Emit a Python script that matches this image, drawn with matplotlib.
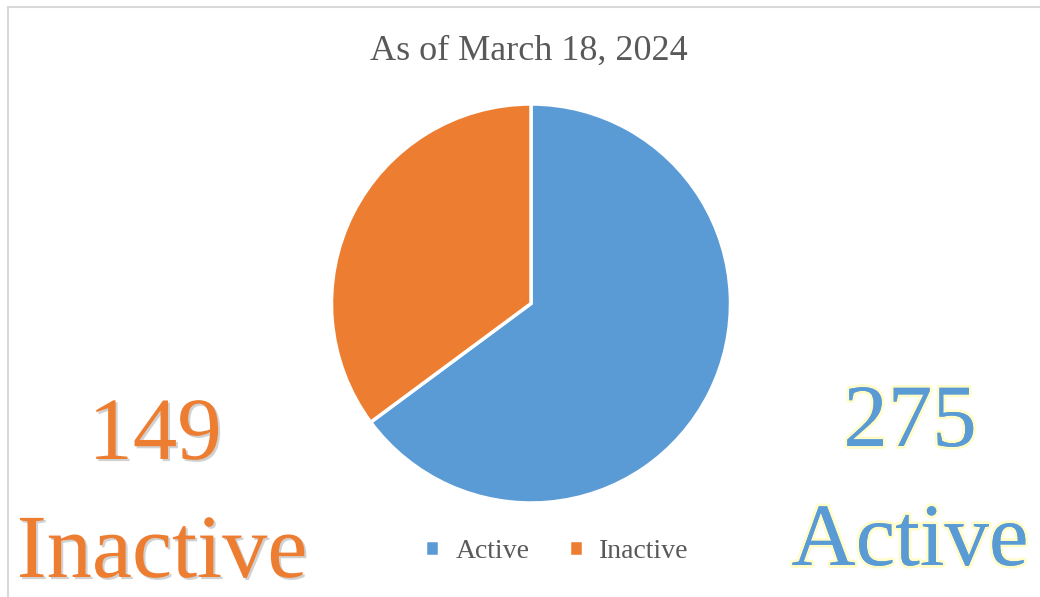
import matplotlib
matplotlib.use("Agg")
import matplotlib.pyplot as plt
import matplotlib.patheffects as pe
from matplotlib.patches import Rectangle

labels = ["Active", "Inactive"]
values = [275, 149]
colors = ["#5B9BD5", "#ED7D31"]
title = "As of March 18, 2024"

W, H = 1040, 597
fig = plt.figure(figsize=(W / 100, H / 100), dpi=100)
fig.patch.set_facecolor("white")
serif = ["Liberation Serif", "DejaVu Serif"]

# frame
fig.add_artist(Rectangle((8 / W, -0.05), 1.1, (H - 7) / H + 0.05, transform=fig.transFigure,
                         fill=False, edgecolor="#D9D9D9", linewidth=1.5))

cx, cy, r = 531, 303.5, 199.5
ax = fig.add_axes([(cx - r) / W, (H - cy - r) / H, 2 * r / W, 2 * r / H])
wedges, _ = ax.pie(values, colors=colors, startangle=90, counterclock=False,
                   wedgeprops=dict(edgecolor="white", linewidth=2.5), radius=1)
ax.set_xlim(-1, 1)
ax.set_ylim(-1, 1)
ax.set_aspect("equal")
ax.axis("off")

fig.text(529 / W, 1 - 60 / H, title, ha="center", va="baseline", fontsize=26,
         color="#595959", family=serif)

# legend
leg = fig.legend(wedges, labels, loc="center", bbox_to_anchor=(557 / W, 1 - 551 / H),
                 ncol=2, frameon=False, handlelength=0.5, handleheight=0.5,
                 handletextpad=0.6, columnspacing=1.4,
                 prop=dict(family=serif, size=20))
for t in leg.get_texts():
    t.set_color("#595959")

shadow = [pe.withSimplePatchShadow(offset=(1.5, -1.5), shadow_rgbFace="#999999", alpha=0.45)]
glow = [pe.withStroke(linewidth=4, foreground="#FFFCC8"), pe.Normal()]

fig.text(155 / W, 1 - 459 / H, str(values[1]), ha="center", va="baseline", fontsize=64,
         color=colors[1], family=serif, path_effects=shadow)
fig.text(162 / W, 1 - 577 / H, labels[1], ha="center", va="baseline", fontsize=65,
         color=colors[1], family=serif, path_effects=shadow)
fig.text(910 / W, 1 - 446 / H, str(values[0]), ha="center", va="baseline", fontsize=64,
         color=colors[0], family=serif, path_effects=glow)
fig.text(910 / W, 1 - 565 / H, labels[0], ha="center", va="baseline", fontsize=64,
         color=colors[0], family=serif, path_effects=glow)

fig.savefig("out.png", dpi=100, facecolor="white")
